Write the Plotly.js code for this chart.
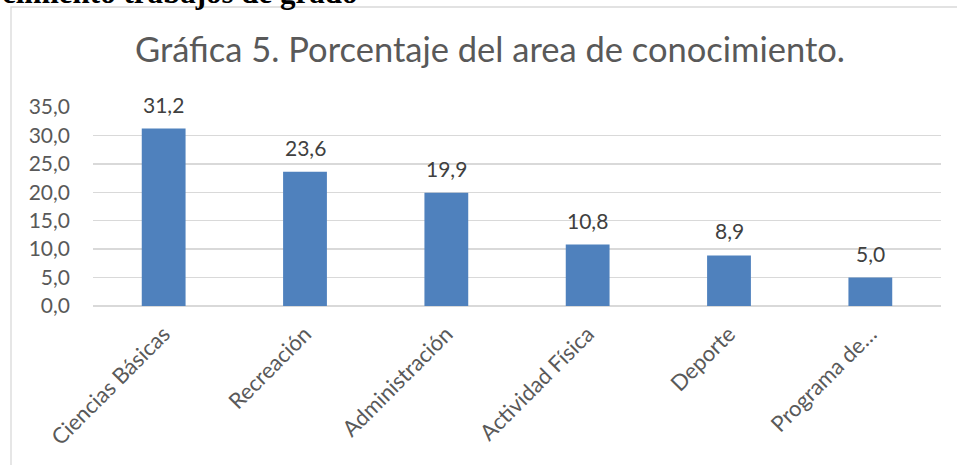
<!DOCTYPE html>
<html><head><meta charset="utf-8">
<script src="https://cdn.plot.ly/plotly-3.0.1.min.js"></script>
<style>html,body{margin:0;padding:0;background:#fff;}#chart{width:957px;height:465px;}</style>
</head><body><div id="chart"></div>
<script>
const categories = ["Ciencias Básicas","Recreación","Administración","Actividad Física","Deporte","Programa de…"];
const values = [31.2, 23.6, 19.9, 10.8, 8.9, 5.0];
const yTicks = [0,5,10,15,20,25,30,35];
const chartTitle = "Gráfica 5. Porcentaje del area de conocimiento.";
const headerText = "cimiento trabajos de grado";

const F = "Lato, 'Noto Sans', sans-serif";
const W = 957, H = 465, L = 93, R = 16, T = 107, B = 159;
const pw = W - L - R, ph = H - T - B;
const px = x => (x - L) / pw;
const py = y => (H - B - y) / ph;

const labels = values.map((v, i) => ({
  x: categories[i], y: v, xref: 'x', yref: 'y',
  text: v.toFixed(1).replace('.', ','), showarrow: false,
  yanchor: 'bottom', yshift: 10,
  font: {family: F, size: 21, color: '#404040'}
}));

const data = [{
  type: 'bar', x: categories, y: values,
  marker: {color: '#4f81bd'}, hoverinfo: 'none'
}];

const layout = {
  width: W, height: H,
  margin: {l: L, r: R, t: T, b: B, pad: 0},
  paper_bgcolor: '#fff', plot_bgcolor: '#fff',
  separators: ',.',
  bargap: 0.69,
  showlegend: false,
  title: {text: chartTitle, font: {family: F, size: 34.5, color: '#595959'},
          x: 490 / W, xref: 'container', xanchor: 'center', y: 1 - 50 / H, yanchor: 'middle'},
  xaxis: {
    type: 'category', tickangle: -45, showgrid: false, zeroline: false,
    showline: false, ticks: '', ticklabelstandoff: 10,
    tickfont: {family: F, size: 22, color: '#595959'}
  },
  yaxis: {
    range: [0, 35], tickvals: yTicks, tickformat: '.1f',
    showgrid: true, gridcolor: '#d9d9d9', gridwidth: 1.3,
    zeroline: true, zerolinecolor: '#d9d9d9', zerolinewidth: 1.3,
    showline: false, ticks: '', ticklabelstandoff: 22,
    tickfont: {family: F, size: 21, color: '#595959'}
  },
  shapes: [{
    type: 'rect', xref: 'paper', yref: 'paper',
    x0: px(11), x1: px(1100), y0: py(7), y1: py(700),
    line: {color: '#d9d9d9', width: 1.3}, fillcolor: 'rgba(0,0,0,0)', layer: 'below'
  }],
  annotations: labels.concat([{
    xref: 'paper', yref: 'paper', x: px(0), y: py(-8),
    xanchor: 'left', yanchor: 'middle', showarrow: false,
    text: '<b>' + headerText + '</b>',
    font: {family: "'Liberation Serif', 'DejaVu Serif', serif", size: 31, color: '#000'}
  }])
};

Plotly.newPlot('chart', data, layout, {displayModeBar: false, staticPlot: true});
</script>
</body></html>
